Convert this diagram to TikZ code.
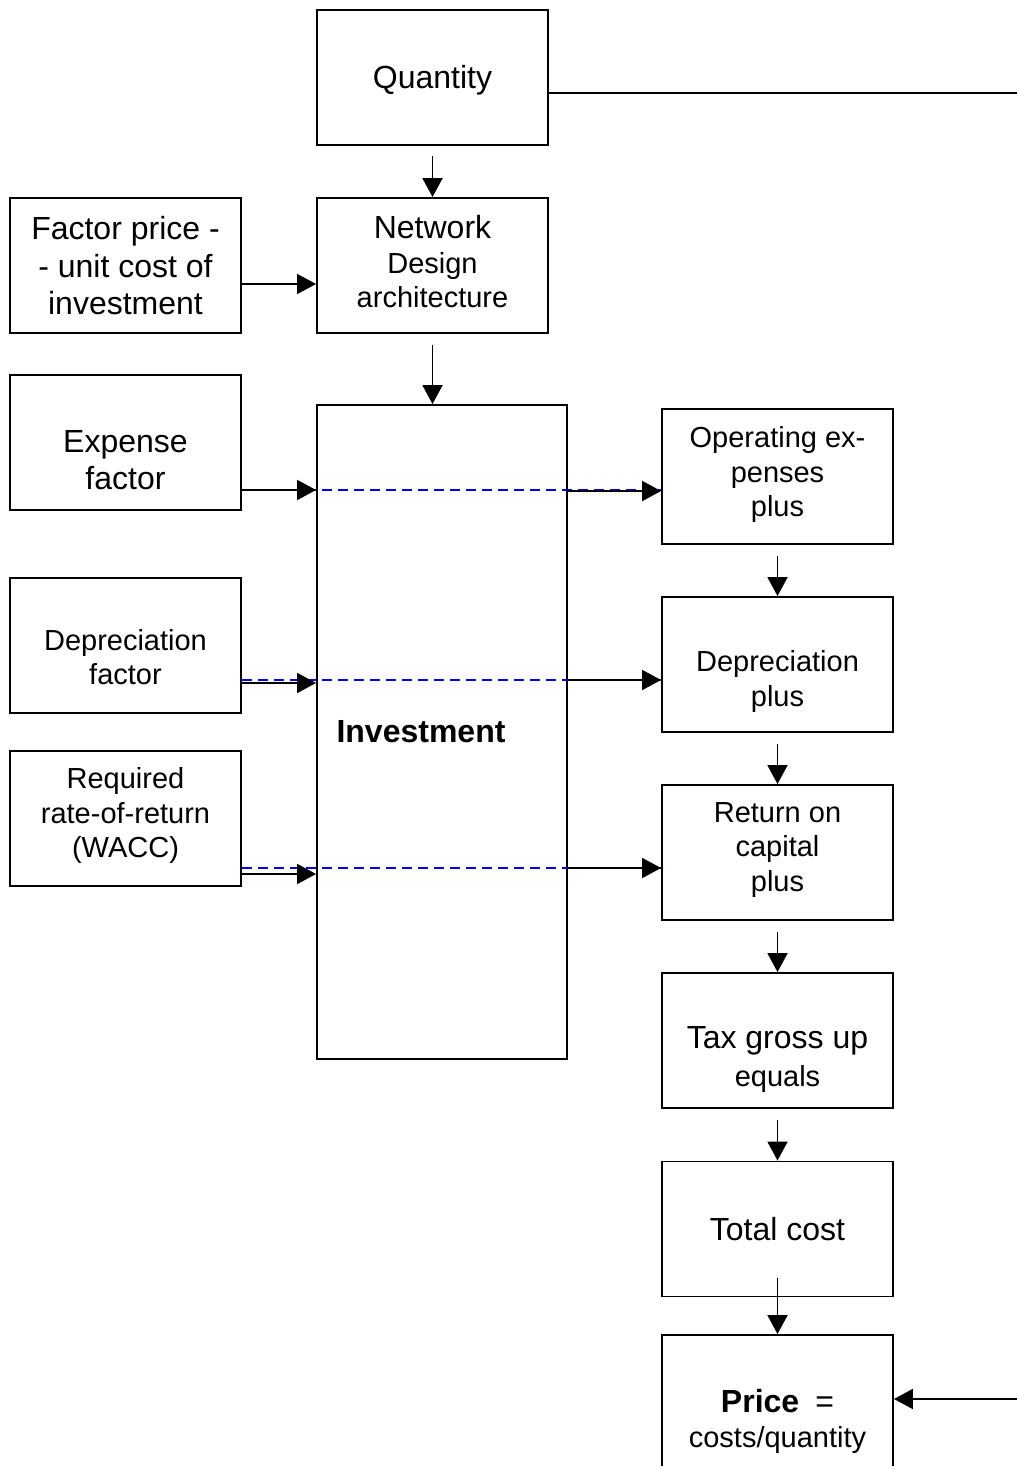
\documentclass[tikz,border=0pt]{standalone}
\usepackage{fontspec}
\setmainfont{Liberation Sans}
\usetikzlibrary{arrows.meta,calc}
\begin{document}
\begin{tikzpicture}[x=1pt,y=-1pt,
  box/.style={draw, line width=1.9pt, minimum width=231pt, minimum height=135pt, inner sep=0pt},
  big/.style={font=\fontsize{32}{37.5}\selectfont, align=center, inner sep=0pt},
  small/.style={font=\fontsize{29}{34.5}\selectfont, align=center, inner sep=0pt},
  arr/.style={line width=1.9pt, -{Triangle[length=19pt,width=20pt]}},
  plainline/.style={line width=1.9pt},
  bluedash/.style={draw=blue, line width=1.8pt, dash pattern=on 10pt off 6pt},
]
\useasboundingbox (0,0) rectangle (1017,1466);
\clip (0,0) rectangle (1017,1466);

% boxes
\node[box] (quantity) at (432.5,77.5) {};
\node[box] (network) at (432.5,265.5) {};
\node[box] (factor) at (125.5,265.5) {};
\node[box] (expense) at (125.5,442.5) {};
\node[box] (depf) at (125.5,645.5) {};
\node[box] (req) at (125.5,818.5) {};
\node[box, minimum width=250pt, minimum height=654pt] (invest) at (442,732) {};
\node[box] (op) at (777.5,476.5) {};
\node[box] (depp) at (777.5,664.5) {};
\node[box] (ret) at (777.5,852.5) {};
\node[box] (tax) at (777.5,1040.5) {};
\node[box] (total) at (777.5,1229) {};
\node[box] (price) at (777.5,1402.5) {};

% texts
\node[big] (tquantity) at (432.5,80) {Quantity};
\node[small] (tnetwork) at (432.5,262) {{\fontsize{32}{34.5}\selectfont Network}\\Design\\architecture};
\node[big] (tfactor) at (125.5,266) {Factor price -\\- unit cost of\\investment};
\node[big] (texpense) at (125.5,460) {Expense\\factor};
\node[small] (tdepf) at (125.5,657) {Depreciation\\factor};
\node[small] (treq) at (125.5,815.5) {Required\\rate-of-return\\(WACC)};
\node[big, font=\fontsize{32}{37.5}\selectfont\bfseries] (tinvest) at (421,732) {Investment};
\node[small] (top) at (777.5,474.5) {Operating ex-\\penses\\plus};
\node[small] (tdepp) at (777.5,681.5) {Depreciation\\plus};
\node[small] (tret) at (777.5,850) {Return on\\capital\\plus};
\node[big] (ttax) at (777.5,1059.5) {Tax gross up\\\fontsize{29}{34.5}\selectfont equals};
\node[big] (ttotal) at (777.5,1229) {Total cost};
\node[small] (tprice) at (777.5,1421.5) {{\fontsize{32}{37.5}\selectfont\bfseries Price}\ \ {\fontsize{32}{37.5}\selectfont =}\\costs/quantity};

% blue dashed lines
\draw[bluedash] ([yshift=-47.5pt]expense.east) -- ([yshift=-47.5pt]expense.east -| op.west);
\draw[bluedash] ([yshift=-34.5pt]depf.east) -- ([yshift=-34.5pt]depf.east -| depp.west);
\draw[bluedash] ([yshift=-49.5pt]req.east) -- ([yshift=-49.5pt]req.east -| ret.west);

% left arrows
\draw[arr] ([yshift=-18.5pt]factor.east) -- ([yshift=-18.5pt]factor.east -| network.west);
\draw[arr] ([yshift=-47.5pt]expense.east) -- ([yshift=-47.5pt]expense.east -| invest.west);
\draw[arr] ([yshift=-37.5pt]depf.east) -- ([yshift=-37.5pt]depf.east -| invest.west);
\draw[arr] ([yshift=-55.5pt]req.east) -- ([yshift=-55.5pt]req.east -| invest.west);

% right arrows
\draw[arr] ([yshift=-14.5pt]op.west -| invest.east) -- ([yshift=-14.5pt]op.west);
\draw[arr] ([yshift=-15.5pt]depp.west -| invest.east) -- ([yshift=-15.5pt]depp.west);
\draw[arr] ([yshift=-15.5pt]ret.west -| invest.east) -- ([yshift=-15.5pt]ret.west);

% vertical arrows
\draw[arr] ([yshift=-10pt]quantity.south) -- (network.north);
\draw[arr] ([yshift=-11pt]network.south) -- (network.south |- invest.north);
\draw[arr] ([yshift=-11pt]op.south) -- (depp.north);
\draw[arr] ([yshift=-11pt]depp.south) -- (ret.north);
\draw[arr] ([yshift=-11pt]ret.south) -- (tax.north);
\draw[arr] ([yshift=-11pt]tax.south) -- (total.north);
\draw[arr] ([yshift=19pt]total.south) -- (price.north);

% long lines
\coordinate (qend) at (1017,93);
\coordinate (pend) at (1017,1399);
\draw[plainline] (qend -| quantity.east) -- (qend);
\draw[arr] (pend) -- (pend -| price.east);
\end{tikzpicture}
\end{document}
